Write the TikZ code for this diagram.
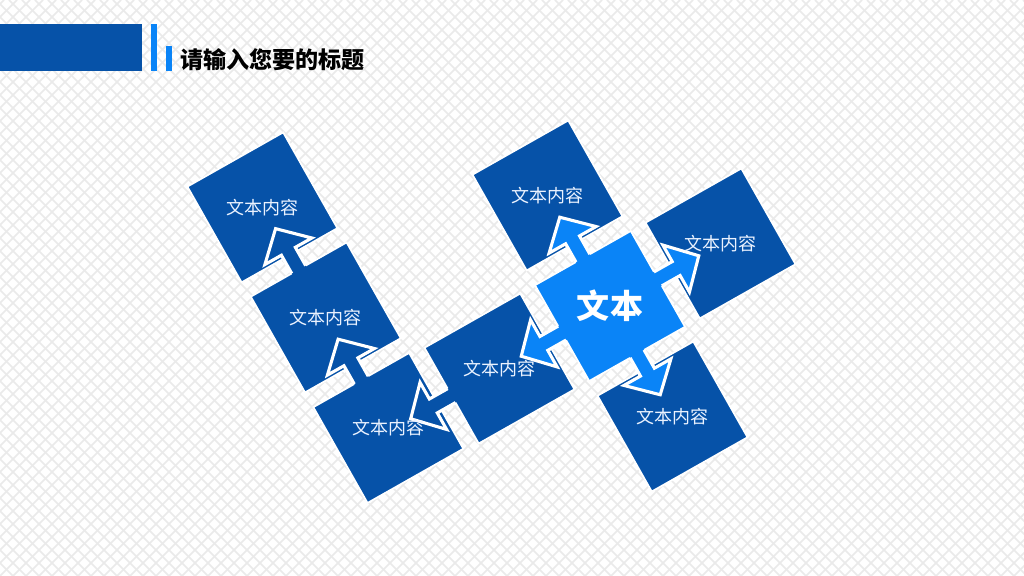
\documentclass[tikz,border=0pt]{standalone}
\usepackage{fontspec}
\newfontfamily\cjk{Noto Sans CJK SC}
\definecolor{darkblue}{HTML}{0652A8}
\definecolor{lightblue}{HTML}{0A84F7}
\definecolor{gridgray}{HTML}{EAEAEA}
\definecolor{paletext}{HTML}{EAF2FF}

\tikzset{
  gridline/.style={gridgray, line width=1.1pt},
  tile/.style={draw=white, line width=1.2pt},
  tiletext/.style={text=paletext, font=\cjk\fontsize{12.8}{15}\selectfont},
  arrowline/.style={white, line width=2.2pt, line join=miter},
}

% block arrow leaving a tile: #1,#2 = tile centre, #3 = turn, #4 = colour
\newcommand{\blockarrow}[4]{%
  \begin{scope}[shift={(#1,#2)}, rotate=#3]
    \fill[#4] (-8,45) -- (-8,76) -- (-27,76) -- (0,102) -- (27,76) -- (8,76) -- (8,45) -- cycle;
    \draw[arrowline] (-8,55) -- (-8,76) -- (-27,76) -- (0,102) -- (27,76) -- (8,76) -- (8,55);
  \end{scope}}

\begin{document}
\begin{tikzpicture}[x=0.025cm, y=0.025cm]
    \useasboundingbox (0,0) rectangle (1024,576);
    \fill[white] (0,0) rectangle (1024,576);

    % background lattice
    \begin{scope}
        \clip (0,0) rectangle (1024,576);
        \foreach \k in {-45,...,124} {
            \draw[gridline] (\k*13,0) -- +(576,576);
            \draw[gridline] (\k*13,0) -- +(-576,576);
        }
    \end{scope}

    % title bar
    \fill[darkblue] (0,505) rectangle (142,552);
    \fill[lightblue] (151,505) rectangle (157,552);
    \fill[lightblue] (166,505) rectangle (172,530);
    \node[anchor=west, inner sep=0pt, font=\cjk\bfseries\fontsize{16.4}{19}\selectfont] (title) at (180,516) {请输入您要的标题};

    \begin{scope}[shift={(610,270)}, rotate=29.5]
        % tiles
        \foreach \x/\y/\c in {0/0/lightblue, 0/127/darkblue, 127/0/darkblue, 0/-127/darkblue,
                              -127/0/darkblue, -253/3/darkblue, -253/130/darkblue, -254/257/darkblue}
            \fill[tile, fill=\c] (\x-55,\y-55) rectangle ++(110,110);

        % arrows
        \blockarrow{0}{0}{0}{lightblue}
        \blockarrow{0}{0}{-90}{lightblue}
        \blockarrow{0}{0}{180}{lightblue}
        \blockarrow{0}{0}{90}{lightblue}
        \blockarrow{-127}{0}{90}{darkblue}
        \blockarrow{-253}{3}{0}{darkblue}
        \blockarrow{-253}{130}{0}{darkblue}

        % labels
        \node[text=white, font=\cjk\bfseries\fontsize{23.5}{27}\selectfont] (hub) at (0,0) {文本};
        \node[tiletext] (up) at (0,127) {文本内容};
        \node[tiletext] (right) at (127,0) {文本内容};
        \node[tiletext] (down) at (0,-127) {文本内容};
        \node[tiletext] (left) at (-127,0) {文本内容};
        \node[tiletext] (low) at (-253,3) {文本内容};
        \node[tiletext] (mid) at (-253,130) {文本内容};
        \node[tiletext] (top) at (-254,257) {文本内容};
    \end{scope}
\end{tikzpicture}
\end{document}
